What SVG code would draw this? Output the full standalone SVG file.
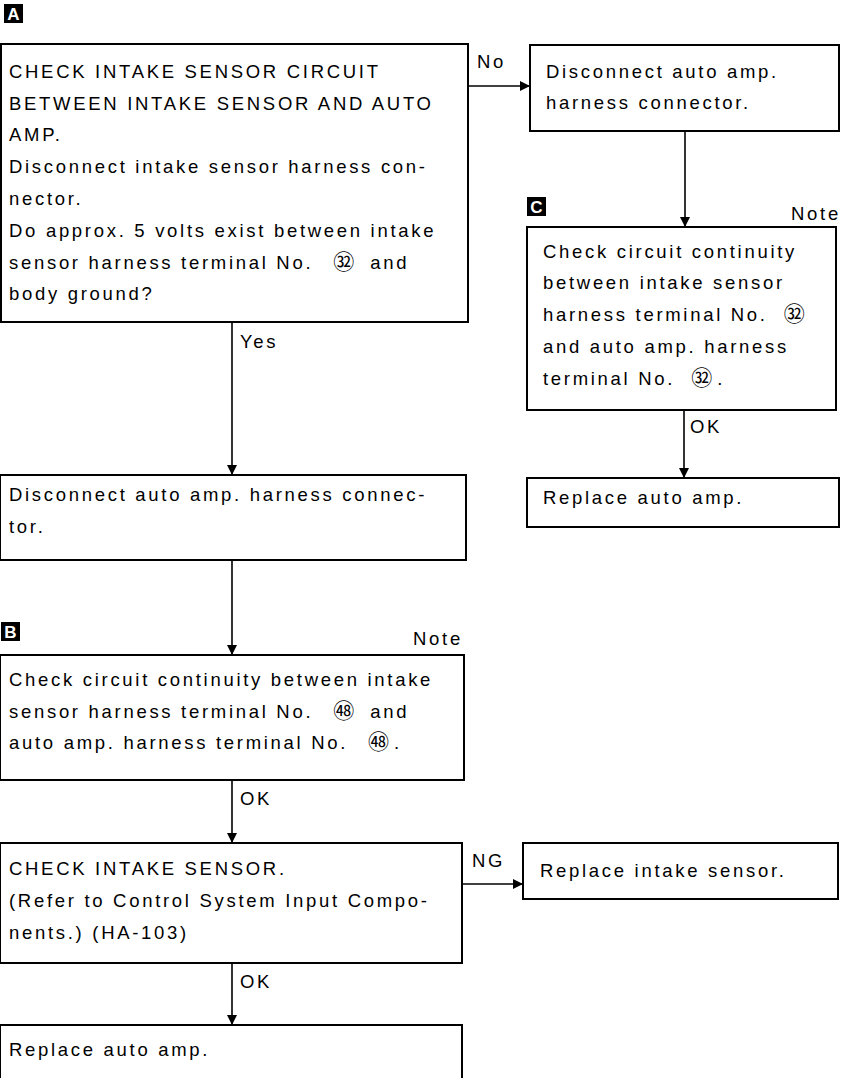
<svg xmlns="http://www.w3.org/2000/svg" width="844" height="1078" viewBox="0 0 844 1078">
<defs>
<style>
.box{fill:#fff;stroke:#000;stroke-width:2}
.t{font-family:"Liberation Sans",Arial,sans-serif;font-size:18.5px;letter-spacing:2.7px;fill:#000}
.lbl{font-family:"Liberation Sans",Arial,sans-serif;font-size:18.5px;letter-spacing:2.7px;fill:#000}
.tag{fill:#000}
.tagt{font-family:"Liberation Sans",Arial,sans-serif;font-size:17px;font-weight:bold;fill:#fff;text-anchor:middle}
.ln{stroke:#000;stroke-width:1.6;fill:none}
.cj{font-family:"Noto Sans CJK JP","Noto Sans CJK SC",sans-serif;font-size:21px;letter-spacing:0}
</style>
<marker id="ar" markerWidth="10" markerHeight="10" refX="9" refY="5" orient="auto" markerUnits="userSpaceOnUse">
<path d="M0,0 L10,5 L0,10 Z" fill="#000"/>
</marker>
</defs>

<g id="connectors">
<line class="ln" x1="468" y1="86" x2="529" y2="86" marker-end="url(#ar)"/>
<text class="lbl" x="477" y="68">No</text>
<line class="ln" x1="685" y1="131" x2="685" y2="226" marker-end="url(#ar)"/>
<line class="ln" x1="684" y1="410" x2="684" y2="477" marker-end="url(#ar)"/>
<text class="lbl" x="690" y="433">OK</text>
<line class="ln" x1="232" y1="322" x2="232" y2="474" marker-end="url(#ar)"/>
<text class="lbl" x="240" y="348">Yes</text>
<line class="ln" x1="232" y1="560" x2="232" y2="654" marker-end="url(#ar)"/>
<line class="ln" x1="232" y1="780" x2="232" y2="842" marker-end="url(#ar)"/>
<text class="lbl" x="240" y="805">OK</text>
<line class="ln" x1="462" y1="884" x2="522" y2="884" marker-end="url(#ar)"/>
<text class="lbl" x="472" y="867">NG</text>
<line class="ln" x1="232" y1="963" x2="232" y2="1024" marker-end="url(#ar)"/>
<text class="lbl" x="240" y="988">OK</text>
</g>

<g id="tagA">
<rect class="tag" x="4" y="4" width="19" height="19"/>
<text class="tagt" x="13.5" y="20">A</text>
</g>
<g id="tagB">
<rect class="tag" x="1" y="622" width="19" height="19"/>
<text class="tagt" x="10.5" y="638">B</text>
</g>
<g id="tagC">
<rect class="tag" x="527" y="197" width="19" height="19"/>
<text class="tagt" x="536.5" y="213">C</text>
</g>
<text class="lbl" x="791" y="220">Note</text>
<text class="lbl" x="413" y="645">Note</text>

<g id="nodeA">
<rect class="box" x="1" y="44" width="467" height="278"/>
<text class="t" x="9" y="78">CHECK INTAKE SENSOR CIRCUIT</text>
<text class="t" x="9" y="110">BETWEEN INTAKE SENSOR AND AUTO</text>
<text class="t" x="9" y="141">AMP.</text>
<text class="t" x="9" y="173">Disconnect intake sensor harness con-</text>
<text class="t" x="9" y="205">nector.</text>
<text class="t" x="9" y="237">Do approx. 5 volts exist between intake</text>
<text class="t" x="9" y="269">sensor harness terminal No.<tspan class="cj" dx="20">㉜</tspan><tspan dx="16">and</tspan></text>
<text class="t" x="9" y="300">body ground?</text>
</g>

<g id="nodeA_no">
<rect class="box" x="530" y="45" width="309" height="86"/>
<text class="t" x="546" y="78">Disconnect auto amp.</text>
<text class="t" x="546" y="109">harness connector.</text>
</g>

<g id="nodeC">
<rect class="box" x="527" y="227" width="309" height="183"/>
<text class="t" x="543" y="258">Check circuit continuity</text>
<text class="t" x="543" y="289">between intake sensor</text>
<text class="t" x="543" y="321">harness terminal No.<tspan class="cj" dx="16">㉜</tspan></text>
<text class="t" x="543" y="353">and auto amp. harness</text>
<text class="t" x="543" y="385">terminal No.<tspan class="cj" dx="16">㉜</tspan><tspan dx="5">.</tspan></text>
</g>

<g id="nodeC_ok">
<rect class="box" x="527" y="478" width="312" height="49"/>
<text class="t" x="543" y="504">Replace auto amp.</text>
</g>

<g id="nodeDisc">
<rect class="box" x="0" y="475" width="466" height="85"/>
<text class="t" x="9" y="501">Disconnect auto amp. harness connec-</text>
<text class="t" x="9" y="533">tor.</text>
</g>

<g id="nodeB">
<rect class="box" x="0" y="655" width="464" height="125"/>
<text class="t" x="9" y="686">Check circuit continuity between intake</text>
<text class="t" x="9" y="718">sensor harness terminal No.<tspan class="cj" dx="20">㊽</tspan><tspan dx="16">and</tspan></text>
<text class="t" x="9" y="749">auto amp. harness terminal No.<tspan class="cj" dx="20">㊽</tspan><tspan dx="5">.</tspan></text>
</g>

<g id="nodeSensor">
<rect class="box" x="0" y="843" width="462" height="120"/>
<text class="t" x="9" y="875">CHECK INTAKE SENSOR.</text>
<text class="t" x="9" y="907">(Refer to Control System Input Compo-</text>
<text class="t" x="9" y="939">nents.) (HA-103)</text>
</g>

<g id="nodeReplaceSensor">
<rect class="box" x="523" y="843" width="315" height="56"/>
<text class="t" x="540" y="877">Replace intake sensor.</text>
</g>

<g id="nodeReplaceAmp">
<path class="box" d="M0,1025 H462 V1080 M0,1025 V1080"/>
<text class="t" x="9" y="1056">Replace auto amp.</text>
</g>
</svg>
